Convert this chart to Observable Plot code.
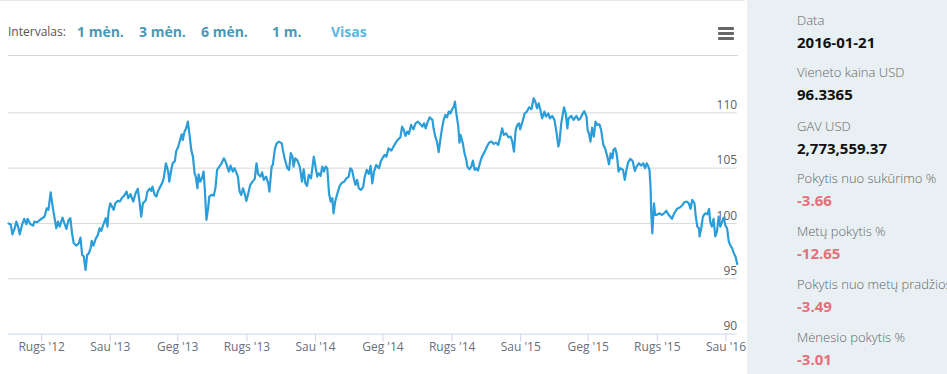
<!DOCTYPE html>
<html>
<head>
<meta charset="utf-8">
<script src="https://cdn.jsdelivr.net/npm/d3@7"></script>
<script src="https://cdn.jsdelivr.net/npm/@observablehq/plot@0.6"></script>
<style>
  html, body { margin: 0; padding: 0; }
  body { width: 947px; height: 374px; position: relative; overflow: hidden; background: #fff; font-family: "Open Sans", sans-serif; }
  #left { position: absolute; left: 0; top: 0; width: 745px; height: 374px; border-top: 1px solid #e8e8e8; box-sizing: border-box; }
  .iv { position: absolute; top: 21px; line-height: 20px; white-space: nowrap; }
  .ivl { font-size: 12px; color: #555; }
  .ivb { font-size: 14px; font-weight: bold; color: #4a98b8; }
  #sep { position: absolute; left: 8px; top: 54px; width: 730px; height: 1px; background: #d6d6d6; }
  .bar { position: absolute; left: 718px; width: 16px; height: 3px; background: #666; border-radius: 1px; }
  #chart { position: absolute; left: 0; top: 56px; }
  #panel { position: absolute; left: 747px; top: 0; width: 200px; height: 374px; background: #e8f0f3; overflow: hidden; }
  .pl, .pv { position: absolute; left: 50px; line-height: 20px; white-space: nowrap; }
  .pl { color: #666; font-size: 13px; font-weight: 300; }
  .pv { color: #111; font-weight: bold; font-size: 15px; }
  .neg { color: #e3707a; }
</style>
</head>
<body>
<div id="left">
  <div id="intervals"></div>
  <div id="sep"></div>
  <div class="bar" style="top:26px"></div>
  <div class="bar" style="top:31px"></div>
  <div class="bar" style="top:36px"></div>
  <div id="chart"></div>
</div>
<div id="panel"></div>
<script>
// ---- Data ----
const p2012 = [
["2012-07-04",100.00],["2012-07-08",99.90],["2012-07-11",99.02],["2012-07-15",99.57],["2012-07-18",100.17],["2012-07-21",99.72],["2012-07-24",99.02],["2012-07-28",99.87],
["2012-08-01",100.42],["2012-08-05",99.93],["2012-08-07",100.42],["2012-08-12",99.93],["2012-08-17",99.81],["2012-08-19",100.17],["2012-08-24",100.11],["2012-08-29",100.33],
["2012-09-02",100.47],["2012-09-06",100.62],["2012-09-10",101.37],["2012-09-13",101.23],["2012-09-17",102.82],["2012-09-20",101.68],["2012-09-22",101.07],["2012-09-27",99.57],["2012-09-30",100.17],
["2012-10-03",99.72],["2012-10-08",100.53],["2012-10-12",99.93],["2012-10-15",99.51],["2012-10-19",100.33],["2012-10-22",100.47],["2012-10-25",99.11],["2012-10-28",98.21],
["2012-11-02",98.00],["2012-11-06",98.21],["2012-11-09",98.73],["2012-11-12",97.16],["2012-11-15",97.01],["2012-11-18",95.81],["2012-11-21",97.16],["2012-11-24",97.31],["2012-11-27",97.76],["2012-11-29",98.43],
["2012-12-02",98.00],["2012-12-06",98.61],["2012-12-10",98.97],["2012-12-13",99.57],["2012-12-16",99.33],["2012-12-19",99.81],["2012-12-24",100.47],["2012-12-27",99.72],["2012-12-29",101.07]
];
const p2013 = [
["2013-01-01",101.82],["2013-01-04",101.53],["2013-01-07",101.23],["2013-01-10",101.82],["2013-01-14",102.04],["2013-01-18",101.98],["2013-01-22",102.34],["2013-01-26",102.52],["2013-01-30",102.88],
["2013-02-02",102.28],["2013-02-06",102.64],["2013-02-11",101.98],["2013-02-15",102.73],["2013-02-19",103.13],["2013-02-22",101.98],["2013-02-25",100.62],["2013-02-28",101.82],
["2013-03-05",102.07],["2013-03-08",102.88],["2013-03-12",103.15],["2013-03-15",102.94],["2013-03-17",103.33],["2013-03-21",102.58],["2013-03-24",102.43],["2013-03-27",102.94],["2013-03-31",103.33],
["2013-04-03",103.63],["2013-04-06",104.08],["2013-04-10",105.44],["2013-04-14",104.69],["2013-04-16",103.78],["2013-04-20",104.99],["2013-04-22",105.44],["2013-04-26",105.65],["2013-04-28",106.49],
["2013-05-02",106.95],["2013-05-06",107.70],["2013-05-08",108.06],["2013-05-10",107.55],["2013-05-13",108.30],["2013-05-16",108.60],["2013-05-19",109.20],["2013-05-22",108.00],["2013-05-25",106.65],["2013-05-28",106.04],["2013-05-31",104.53],
["2013-06-02",104.24],["2013-06-05",103.18],["2013-06-07",104.44],["2013-06-10",103.78],["2013-06-13",104.08],["2013-06-16",104.69],["2013-06-18",103.18],["2013-06-21",100.33],["2013-06-24",101.37],["2013-06-26",102.43],["2013-06-30",102.58],
["2013-07-04",102.52],["2013-07-07",103.18],["2013-07-10",104.84],["2013-07-14",105.14],["2013-07-18",105.44],["2013-07-22",105.89],["2013-07-25",105.59],["2013-07-28",105.14],["2013-07-31",104.69],
["2013-08-03",105.23],["2013-08-07",104.69],["2013-08-10",104.99],["2013-08-13",104.62],["2013-08-16",104.24],["2013-08-19",102.88],["2013-08-22",102.58],["2013-08-25",103.18],["2013-08-28",102.73],["2013-08-31",102.04],
["2013-09-03",102.64],["2013-09-07",103.49],["2013-09-11",103.78],["2013-09-15",104.03],["2013-09-18",105.44],["2013-09-21",104.44],["2013-09-25",104.24],["2013-09-28",104.62],
["2013-10-01",103.94],["2013-10-05",104.24],["2013-10-09",103.63],["2013-10-11",102.88],["2013-10-15",105.14],["2013-10-17",105.29],["2013-10-21",106.79],["2013-10-24",107.24],["2013-10-28",107.40],
["2013-11-02",107.24],["2013-11-04",106.65],["2013-11-07",105.89],["2013-11-12",104.99],["2013-11-15",104.84],["2013-11-18",106.36],["2013-11-21",106.04],["2013-11-23",105.14],["2013-11-26",105.89],["2013-11-30",105.68],
["2013-12-04",105.14],["2013-12-08",103.78],["2013-12-11",104.90],["2013-12-14",103.63],["2013-12-17",103.40],["2013-12-20",104.39],["2013-12-24",104.08],["2013-12-29",106.04]
];
const p2014 = [
["2014-01-01",105.14],["2014-01-04",104.24],["2014-01-07",104.53],["2014-01-10",104.30],["2014-01-13",105.14],["2014-01-16",104.69],["2014-01-19",105.14],["2014-01-22",104.99],["2014-01-25",102.73],["2014-01-28",101.98],["2014-01-31",102.28],
["2014-02-02",100.92],["2014-02-05",101.98],["2014-02-09",102.73],["2014-02-13",103.40],["2014-02-17",103.69],["2014-02-21",103.78],["2014-02-25",104.08],["2014-03-01",104.24],
["2014-03-04",104.99],["2014-03-07",104.84],["2014-03-10",104.08],["2014-03-13",103.49],["2014-03-16",103.94],["2014-03-19",103.18],["2014-03-23",103.03],["2014-03-27",103.33],["2014-03-29",104.08],
["2014-04-02",104.84],["2014-04-06",104.48],["2014-04-09",105.20],["2014-04-12",103.63],["2014-04-15",104.69],["2014-04-19",105.29],["2014-04-24",104.99],["2014-04-27",105.59],["2014-04-30",105.89],
["2014-05-04",106.20],["2014-05-07",106.04],["2014-05-11",106.79],["2014-05-16",106.59],["2014-05-19",106.88],["2014-05-23",107.24],["2014-05-27",107.55],
["2014-06-01",107.79],["2014-06-04",108.75],["2014-06-07",108.45],["2014-06-10",107.91],["2014-06-13",108.30],["2014-06-16",108.09],["2014-06-20",108.91],["2014-06-24",108.51],["2014-06-28",109.05],
["2014-07-02",109.20],["2014-07-05",109.05],["2014-07-10",108.75],["2014-07-13",109.05],["2014-07-16",108.60],["2014-07-19",109.11],["2014-07-23",109.59],["2014-07-28",109.36],["2014-07-30",108.60],
["2014-08-02",107.85],["2014-08-05",107.40],["2014-08-08",106.45],["2014-08-11",107.55],["2014-08-14",108.60],["2014-08-17",109.36],["2014-08-20",109.81],["2014-08-23",109.59],["2014-08-26",110.11],["2014-08-29",109.95],
["2014-09-01",110.32],["2014-09-04",110.56],["2014-09-06",111.01],["2014-09-08",110.11],["2014-09-12",108.75],["2014-09-14",107.31],["2014-09-16",108.00],["2014-09-20",107.24],["2014-09-23",106.34],["2014-09-26",105.80],["2014-09-28",105.14],
["2014-10-02",104.90],["2014-10-05",105.14],["2014-10-08",105.68],["2014-10-11",104.84],["2014-10-14",104.99],["2014-10-17",104.78],["2014-10-20",105.38],["2014-10-24",106.04],["2014-10-29",106.49],
["2014-11-02",106.95],["2014-11-06",107.31],["2014-11-10",107.40],["2014-11-14",107.19],["2014-11-18",107.31],["2014-11-22",107.10],["2014-11-25",107.70],["2014-11-29",108.60],
["2014-12-02",108.00],["2014-12-06",108.15],["2014-12-10",107.79],["2014-12-14",107.85],["2014-12-17",107.40],["2014-12-20",106.49],["2014-12-23",108.45],["2014-12-26",108.91],["2014-12-29",109.05],["2014-12-31",108.51]
];
const p2015 = [
["2015-01-05",109.36],["2015-01-08",109.95],["2015-01-12",110.11],["2015-01-16",110.50],["2015-01-20",110.32],["2015-01-24",111.31],["2015-01-27",111.01],["2015-01-30",110.41],
["2015-02-02",110.86],["2015-02-05",110.26],["2015-02-08",109.50],["2015-02-12",110.11],["2015-02-15",109.66],["2015-02-19",109.95],["2015-02-22",109.50],["2015-02-26",109.72],
["2015-03-02",109.36],["2015-03-05",108.45],["2015-03-09",106.95],["2015-03-11",107.40],["2015-03-14",109.05],["2015-03-19",110.50],["2015-03-22",109.95],["2015-03-25",108.60],["2015-03-27",109.50],
["2015-04-01",109.72],["2015-04-05",109.36],["2015-04-10",109.72],["2015-04-14",109.36],["2015-04-17",109.48],["2015-04-20",109.81],["2015-04-24",110.15],["2015-04-28",109.66],["2015-04-30",108.45],
["2015-05-03",108.00],["2015-05-05",107.40],["2015-05-08",108.66],["2015-05-11",107.85],["2015-05-14",109.20],["2015-05-17",108.91],["2015-05-21",108.96],["2015-05-24",108.45],["2015-05-28",107.10],["2015-05-31",106.79],
["2015-06-04",106.04],["2015-06-07",105.35],["2015-06-10",106.34],["2015-06-13",105.89],["2015-06-15",106.65],["2015-06-18",106.79],["2015-06-21",106.20],["2015-06-24",104.69],["2015-06-27",104.99],
["2015-07-02",104.84],["2015-07-05",103.94],["2015-07-08",104.84],["2015-07-11",105.53],["2015-07-15",105.84],["2015-07-19",105.65],["2015-07-23",104.75],["2015-07-26",105.14],["2015-07-30",105.44],
["2015-08-03",105.23],["2015-08-07",105.44],["2015-08-10",104.99],["2015-08-13",105.44],["2015-08-16",105.14],["2015-08-18",104.84],["2015-08-20",103.18],["2015-08-21",101.07],["2015-08-23",99.11],["2015-08-26",101.82],["2015-08-28",100.78],["2015-08-31",100.78],
["2015-09-05",100.92],["2015-09-09",100.78],["2015-09-13",100.92],["2015-09-17",101.14],["2015-09-21",100.78],["2015-09-27",100.42],
["2015-10-01",100.92],["2015-10-06",101.32],["2015-10-11",101.44],["2015-10-15",101.62],["2015-10-19",101.92],["2015-10-23",101.98],["2015-10-27",101.82],["2015-10-30",101.32],
["2015-11-02",102.13],["2015-11-06",101.82],["2015-11-08",100.78],["2015-11-11",99.72],["2015-11-14",99.57],["2015-11-15",98.82],["2015-11-18",99.57],["2015-11-21",100.62],["2015-11-25",100.92],["2015-11-29",100.83],
["2015-12-02",101.32],["2015-12-04",100.17],["2015-12-07",99.72],["2015-12-10",100.42],["2015-12-13",98.82],["2015-12-16",99.27],["2015-12-19",100.62],["2015-12-22",99.72],["2015-12-25",100.17],["2015-12-28",100.53],["2015-12-31",99.82]
];
const p2016 = [
["2016-01-03",99.57],["2016-01-06",98.37],["2016-01-09",98.00],["2016-01-12",97.76],["2016-01-15",97.31],["2016-01-18",97.01],["2016-01-21",96.34]
];

const xTickDates = ["2012-09-01","2013-01-01","2013-05-01","2013-09-01","2014-01-01","2014-05-01","2014-09-01","2015-01-01","2015-05-01","2015-09-01","2016-01-01"];
const xTickLabels = ["Rugs '12","Sau '13","Geg '13","Rugs '13","Sau '14","Geg '14","Rugs '14","Sau '15","Geg '15","Rugs '15","Sau '16"];
const yTicks = [90, 95, 100, 105, 110];
const xDomain = ["2012-07-04", "2016-01-21"];

const intervalLabels = ["1 mėn.", "3 mėn.", "6 mėn.", "1 m.", "Visas"];
const panelLabels = ["Data", "Vieneto kaina USD", "GAV USD", "Pokytis nuo sukūrimo %", "Metų pokytis %", "Pokytis nuo metų pradžios %", "Mėnesio pokytis %"];
const panelValues = ["2016-01-21", "96.3365", "2,773,559.37", "-3.66", "-12.65", "-3.49", "-3.01"];

// ---- Header / side panel (HTML text) ----
const iv = document.getElementById("intervals");
const ivLeft = [77, 139, 201, 272, 331];
iv.insertAdjacentHTML("beforeend", `<span class="iv ivl" style="left:8px">Intervalas:</span>`);
intervalLabels.forEach((t, i) => {
  const col = i === intervalLabels.length - 1 ? "color:#5ab6e4;" : "";
  iv.insertAdjacentHTML("beforeend", `<span class="iv ivb" style="left:${ivLeft[i]}px;${col}">${t}</span>`);
});
const panel = document.getElementById("panel");
const rowTop = [10, 62, 116, 168, 221, 274, 327];
panelLabels.forEach((t, i) => {
  const neg = panelValues[i].startsWith("-") ? " neg" : "";
  panel.insertAdjacentHTML("beforeend",
    `<div class="pl" style="top:${rowTop[i]}px">${t}</div><div class="pv${neg}" style="top:${rowTop[i] + 22}px">${panelValues[i]}</div>`);
});

// ---- Chart ----
const series = [...p2012, ...p2013, ...p2014, ...p2015, ...p2016].map(([d, v]) => ({date: new Date(d), value: v}));
const tickDates = xTickDates.map(d => new Date(d));
const labelByTime = new Map(tickDates.map((d, i) => [+d, xTickLabels[i]]));

const chart = Plot.plot({
  width: 745,
  height: 318,
  marginLeft: 8,
  marginRight: 8.3,
  marginTop: 0,
  marginBottom: 41.4,
  style: {fontFamily: "'Open Sans', sans-serif", fontSize: "12px", background: "transparent", overflow: "visible"},
  x: {type: "utc", domain: xDomain.map(d => new Date(d)), label: null},
  y: {domain: [90, 115], label: null},
  marks: [
    Plot.ruleY(yTicks.filter(v => v > 90), {stroke: "#d9d9d9", strokeWidth: 1}),
    Plot.ruleY([90], {stroke: "#ccd6eb", strokeWidth: 1}),
    Plot.axisX({ticks: tickDates, tickFormat: d => labelByTime.get(+d), tickSize: 8, tickPadding: 0, stroke: "#ccd6eb", fill: "#666f7c", label: null}),
    Plot.axisY({anchor: "right", ticks: yTicks, tickSize: 0, tickPadding: 0, textAnchor: "end", dy: -7.5, fill: "#606060", label: null}),
    Plot.lineY(series, {x: "date", y: "value", stroke: "#2b9dd8", strokeWidth: 2.2, strokeLinejoin: "round"})
  ]
});
document.getElementById("chart").appendChild(chart);
</script>
</body>
</html>
